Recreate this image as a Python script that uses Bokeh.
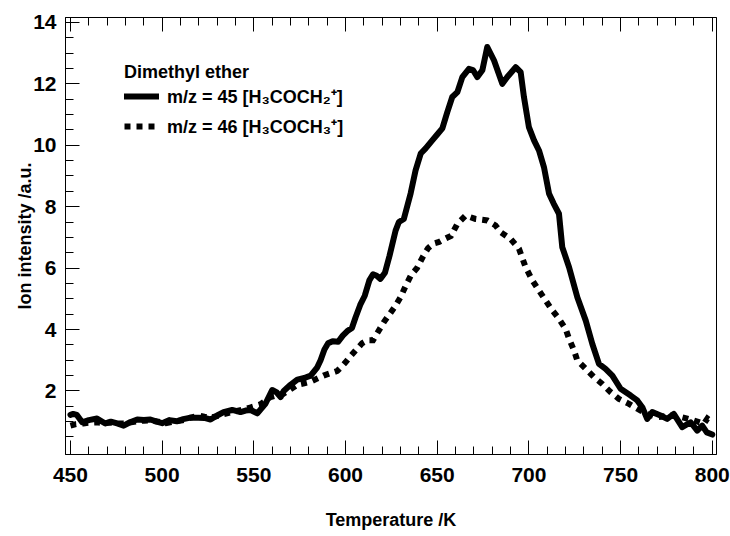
from bokeh.plotting import figure
from bokeh.models import (LinearAxis, FixedTicker, Range1d, Legend, LegendItem,
                          CustomLabelingPolicy)
from bokeh.embed import file_html
from bokeh.resources import INLINE

# m/z = 45 (solid)
temp_45 = [450.0, 451.5, 453.5, 456.4, 460.0, 464.5, 469.0, 472.0, 475.5, 479.0,
           482.5, 486.4, 490.0, 493.6, 497.0, 500.0, 504.0, 508.0, 511.5, 515.5,
           519.8, 523.0, 526.4, 530.0, 533.5, 538.2, 542.7, 545.5, 548.2, 551.9,
           556.4, 560.0, 562.5, 564.6, 566.3, 570.0, 573.7, 577.5, 581.0, 584.6,
           586.4, 588.5, 590.5, 593.0, 596.0, 598.5, 601.0, 603.5, 605.5, 608.0,
           610.5, 613.0, 615.0, 617.0, 619.0, 621.5, 624.0, 627.3, 629.1, 631.8,
           635.5, 638.2, 641.0, 643.7, 647.3, 650.0, 652.8, 655.5, 658.2, 661.0,
           663.7, 667.3, 669.5, 671.9, 674.6, 677.3, 681.0, 685.5, 688.2, 692.8,
           695.5, 697.3, 700.0, 702.8, 705.5, 708.2, 711.0, 713.5, 716.4, 718.2,
           721.9, 726.4, 731.0, 734.6, 738.2, 741.8, 745.5, 750.0, 755.5, 759.1,
           762.0, 764.5, 767.3, 771.8, 775.4, 779.0, 783.6, 788.2, 791.8, 794.5,
           797.0, 800.0]
ion_45 = [1.22, 1.25, 1.22, 0.98, 1.05, 1.10, 0.94, 1.00, 0.94, 0.87,
          0.98, 1.07, 1.05, 1.07, 1.00, 0.95, 1.05, 1.01, 1.08, 1.13,
          1.13, 1.12, 1.07, 1.20, 1.31, 1.38, 1.31, 1.36, 1.38, 1.27,
          1.59, 2.03, 1.95, 1.80, 2.00, 2.20, 2.37, 2.42, 2.50, 2.77,
          3.00, 3.35, 3.55, 3.62, 3.60, 3.80, 3.95, 4.05, 4.40, 4.80,
          5.10, 5.60, 5.80, 5.75, 5.65, 5.85, 6.40, 7.22, 7.50, 7.60,
          8.43, 9.18, 9.73, 9.90, 10.16, 10.35, 10.55, 11.08, 11.57, 11.73,
          12.22, 12.49, 12.45, 12.22, 12.44, 13.20, 12.76, 12.00, 12.22, 12.54,
          12.38, 11.57, 10.59, 10.16, 9.83, 9.29, 8.42, 8.10, 7.77, 6.68,
          6.03, 5.05, 4.29, 3.53, 2.88, 2.72, 2.50, 2.07, 1.85, 1.69,
          1.45, 1.09, 1.31, 1.20, 1.09, 1.25, 0.82, 0.98, 0.71, 0.87,
          0.65, 0.58]

# m/z = 46 (dotted)
temp_46 = [450.0, 453.0, 457.0, 461.0, 464.5, 468.0, 472.0, 476.0, 479.0, 483.0,
           487.0, 490.0, 493.6, 498.0, 502.0, 506.0, 511.0, 515.0, 520.0, 523.0,
           526.0, 530.0, 533.5, 537.0, 540.8, 544.5, 548.0, 553.5, 559.0, 562.5,
           566.0, 570.0, 573.7, 577.5, 581.0, 584.5, 588.0, 592.0, 595.5, 598.0,
           600.0, 603.0, 606.0, 609.0, 612.0, 615.0, 618.0, 621.0, 624.0, 627.0,
           630.0, 633.0, 636.0, 639.0, 642.0, 645.0, 648.0, 651.0, 654.0, 657.5,
           661.0, 665.5, 670.9, 677.3, 681.8, 684.6, 690.0, 694.6, 698.2, 701.9,
           705.5, 709.2, 712.8, 716.4, 720.0, 721.9, 724.6, 726.4, 731.0, 735.5,
           740.0, 744.6, 749.1, 754.6, 759.1, 764.5, 769.9, 777.3, 783.6, 789.9,
           795.4, 797.3, 800.0]
ion_46 = [0.87, 0.92, 0.94, 0.97, 0.98, 0.95, 0.97, 0.95, 0.94, 0.98,
          1.02, 1.03, 1.04, 1.00, 0.95, 1.00, 1.04, 1.12, 1.20, 1.16,
          1.13, 1.18, 1.24, 1.30, 1.35, 1.40, 1.46, 1.56, 1.80, 1.86,
          1.90, 2.05, 2.20, 2.25, 2.30, 2.40, 2.50, 2.58, 2.65, 2.80,
          2.93, 3.15, 3.35, 3.55, 3.65, 3.65, 3.95, 4.25, 4.50, 4.75,
          5.05, 5.45, 5.80, 6.00, 6.35, 6.65, 6.80, 6.85, 6.95, 7.05,
          7.44, 7.71, 7.60, 7.55, 7.39, 7.17, 6.95, 6.63, 6.03, 5.60,
          5.27, 4.94, 4.62, 4.35, 4.02, 3.70, 3.32, 2.99, 2.72, 2.45,
          2.23, 1.96, 1.74, 1.58, 1.42, 1.25, 1.14, 1.20, 1.14, 1.04,
          0.93, 1.10, 0.97]

x_major_ticks = [450, 500, 550, 600, 650, 700, 750, 800]
x_minor_ticks = [t for t in range(450, 801, 10) if t % 50 != 0]
y_major_ticks = [2, 4, 6, 8, 10, 12, 14]
y_minor_ticks = [v / 2 for v in range(1, 29) if v % 4 != 0]

legend_title = "Dimethyl ether"
label_45 = "m/z = 45 [H\u2083COCH\u2082\u207a]"
label_46 = "m/z = 46 [H\u2083COCH\u2083\u207a]"

FONT = "Liberation Sans"

p = figure(width=730, height=536, output_backend="svg", toolbar_location=None,
           x_range=Range1d(447.3, 802.3), y_range=Range1d(-0.07, 14.16),
           min_border_left=65, min_border_right=14, min_border_top=17,
           min_border_bottom=82)
p.xgrid.visible = False
p.ygrid.visible = False
p.outline_line_color = "black"
p.outline_line_width = 1
p.background_fill_color = "white"
p.border_fill_color = "white"

def style_axis(ax, ticks, minor, labels=True):
    ax.ticker = FixedTicker(ticks=ticks, minor_ticks=minor)
    ax.major_tick_in = 14
    ax.major_tick_out = 0
    ax.minor_tick_in = 8
    ax.minor_tick_out = 0
    ax.major_tick_line_color = "black"
    ax.minor_tick_line_color = "black"
    ax.axis_line_color = "black"
    ax.major_label_text_font = FONT
    ax.major_label_text_font_style = "bold"
    ax.major_label_text_color = "black"
    ax.axis_label_text_font = FONT
    ax.axis_label_text_font_style = "bold"
    ax.axis_label_text_color = "black"
    ax.axis_label_text_font_size = "18px"
    if labels:
        ax.major_label_text_font_size = "21px"
    else:
        ax.major_label_text_font_size = "0px"
        ax.major_label_standoff = 0
        ax.major_label_policy = CustomLabelingPolicy(code="return []")

xa = p.xaxis[0]
style_axis(xa, x_major_ticks, x_minor_ticks)
xa.axis_label = "Temperature /K"
xa.major_label_standoff = 13
xa.axis_label_standoff = 25

ya = p.yaxis[0]
style_axis(ya, y_major_ticks, y_minor_ticks)
ya.axis_label = "Ion intensity /a.u."
ya.major_label_standoff = 9
ya.axis_label_standoff = -5

top = LinearAxis()
style_axis(top, x_major_ticks, x_minor_ticks, labels=False)
p.add_layout(top, "above")

r45 = p.line(temp_45, ion_45, line_color="black", line_width=6,
             line_join="round", line_cap="round")
r46 = p.line(temp_46, ion_46, line_color="black", line_width=6,
             line_dash="6 6", line_join="miter", line_cap="butt")

legend = Legend(items=[LegendItem(label=label_45, renderers=[r45]),
                       LegendItem(label=label_46, renderers=[r46])],
                title=legend_title, location=(59, 316))
legend.title_text_font = FONT
legend.title_text_font_style = "bold"
legend.title_text_font_size = "18px"
legend.title_text_color = "black"
legend.label_text_font = FONT
legend.label_text_font_style = "bold"
legend.label_text_font_size = "18px"
legend.label_text_color = "black"
legend.glyph_width = 35
legend.glyph_height = 20
legend.label_height = 20
legend.label_standoff = 8
legend.spacing = 6
legend.padding = 0
legend.margin = 0
legend.title_standoff = 1
legend.border_line_alpha = 0
legend.background_fill_alpha = 0
p.add_layout(legend)

open("out.html", "w").write(file_html(p, INLINE))
